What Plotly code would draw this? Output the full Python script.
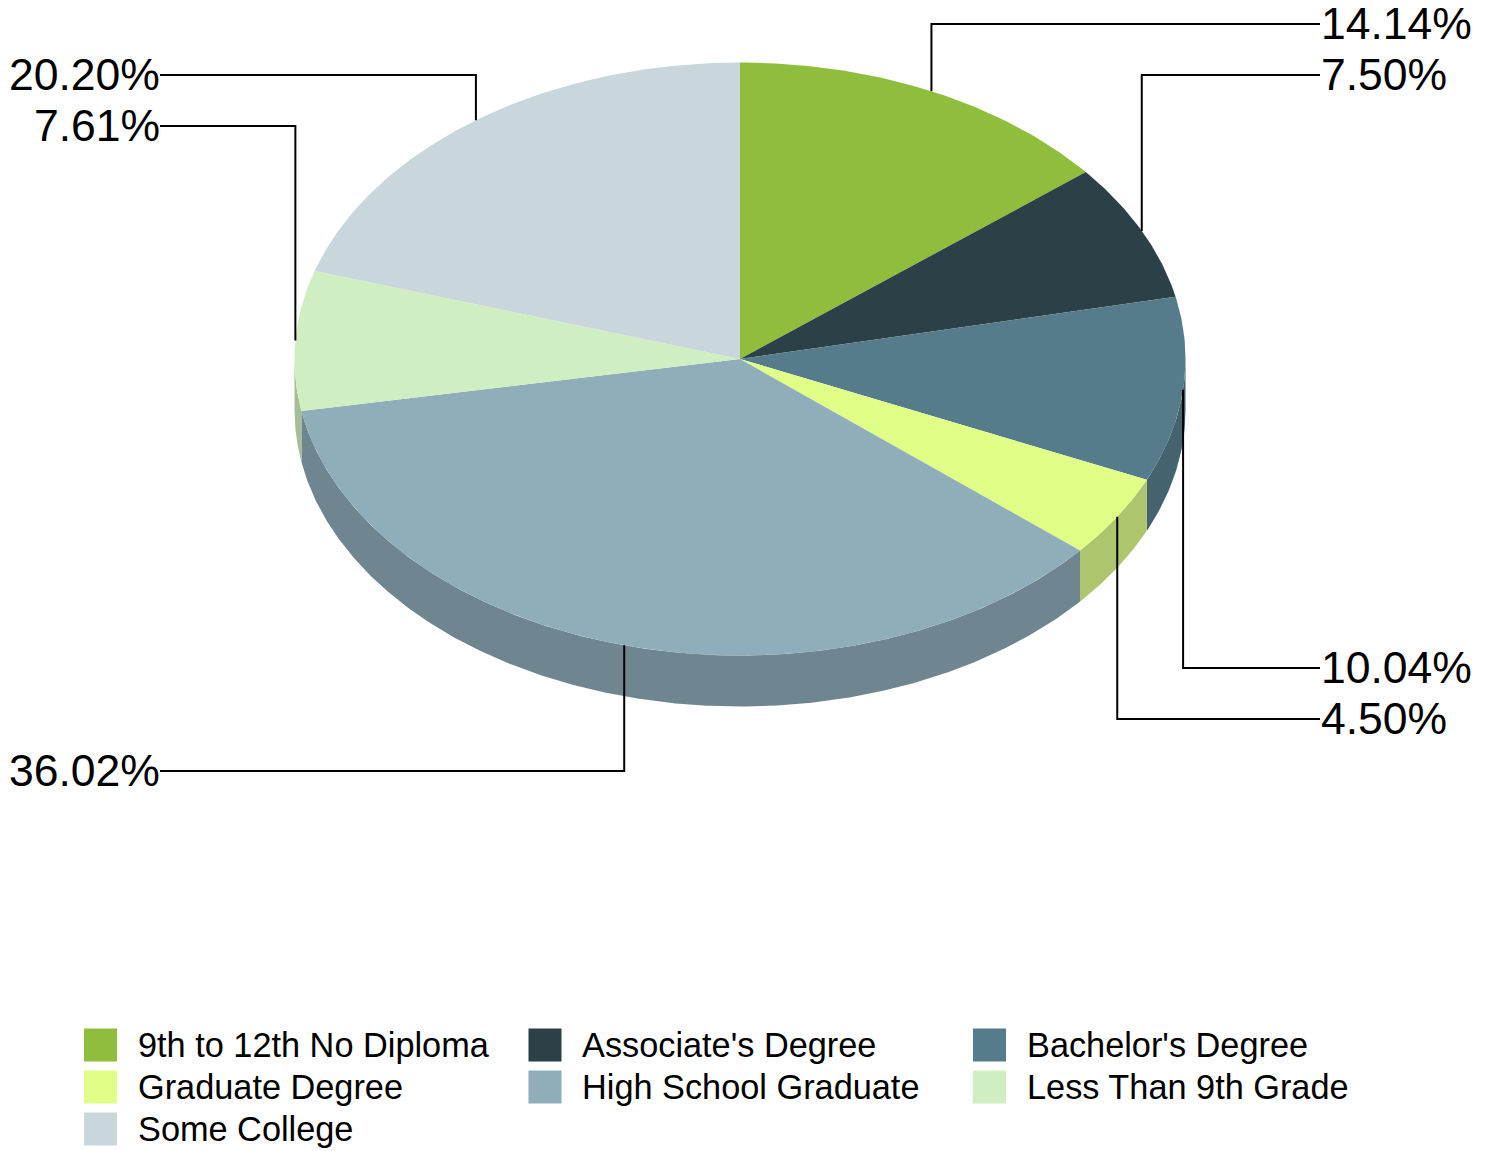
import math
import plotly.graph_objects as go

categories = ["9th to 12th No Diploma", "Associate's Degree", "Bachelor's Degree",
              "Graduate Degree", "High School Graduate", "Less Than 9th Grade", "Some College"]
values = [14.14, 7.50, 10.04, 4.50, 36.02, 7.61, 20.20]
top_colors = ["#8fbe3c", "#2c4048", "#567b8b", "#dfff87", "#90aeb9", "#cfeec1", "#c9d7dc"]
side_colors = ["#73982f", "#233339", "#45626f", "#adc56d", "#6f8691", "#a5be9a", "#a1acb0"]
label_pos = [(24, "r"), (75, "r"), (668, "r"), (719, "r"), (771, "l"), (126, "l"), (75, "l")]

W, H = 1492, 1151
CX, CY, RX, RY, DEPTH = 740.0, 359.0, 445.5, 296.5, 51.0
XR, XL = 1320, 160
LEG_SWATCH_X = [100.5, 545.0, 989.5]
LEG_TEXT_X = [137, 581, 1026]
LEG_Y = [1045, 1087, 1129]
total = sum(values)


def pt(deg, dy=0.0):
    a = math.radians(deg)
    return CX + RX * math.sin(a), CY - RY * math.cos(a) + dy


def arc(a0, a1):
    n = max(2, int(abs(a1 - a0) * 2) + 1)
    return [a0 + (a1 - a0) * i / (n - 1) for i in range(n)]


fig = go.Figure()
FONT = "Liberation Sans, Arial, sans-serif"
starts, acc = [], 0.0
for v in values:
    starts.append(acc / total * 360)
    acc += v
ends = starts[1:] + [360.0]

# side walls (only the front half of the disc shows)
for s, e, col in zip(starts, ends, side_colors):
    lo, hi = max(s, 90.0), min(e, 270.0)
    if lo >= hi:
        continue
    angs = arc(lo, hi)
    upper = [pt(a) for a in angs]
    lower = [pt(a, DEPTH) for a in reversed(angs)]
    pts = upper + lower + upper[:1]
    fig.add_trace(go.Scatter(x=[p[0] for p in pts], y=[p[1] for p in pts], mode="lines",
                             fill="toself", fillcolor=col, line=dict(width=0),
                             hoverinfo="skip", showlegend=False))

# top faces
for s, e, col, name in zip(starts, ends, top_colors, categories):
    pts = [(CX, CY)] + [pt(a) for a in arc(s, e)] + [(CX, CY)]
    fig.add_trace(go.Scatter(x=[p[0] for p in pts], y=[p[1] for p in pts], mode="lines",
                             fill="toself", fillcolor=col, line=dict(width=0),
                             name=name, showlegend=False))

# leader lines and labels
for s, e, v, (ly, side) in zip(starts, ends, values, label_pos):
    px, py = pt((s + e) / 2)
    xe = XR if side == "r" else XL
    fig.add_trace(go.Scatter(x=[px, px, xe], y=[py, ly, ly], mode="lines",
                             line=dict(color="#000000", width=2),
                             hoverinfo="skip", showlegend=False))
    fig.add_annotation(x=xe, y=ly, xref="x", yref="y", text=f"{v:.2f}%", showarrow=False,
                       xanchor="left" if side == "r" else "right", yanchor="middle",
                       xshift=-1.5 if side == "r" else 1.5, yshift=1,
                       font=dict(size=44.5, color="#000000", family=FONT))

# legend: swatch grid and names
for i, (name, col) in enumerate(zip(categories, top_colors)):
    r, c = divmod(i, 3)
    fig.add_trace(go.Scatter(x=[LEG_SWATCH_X[c]], y=[LEG_Y[r]], mode="markers", name=name,
                             marker=dict(symbol="square", size=33, color=col, line=dict(width=0)),
                             showlegend=False))
    fig.add_annotation(x=LEG_TEXT_X[c], y=LEG_Y[r], xref="x", yref="y", text=name, showarrow=False,
                       xanchor="left", yanchor="middle", borderpad=0,
                       font=dict(size=34.3, color="#000000", family=FONT))

fig.update_layout(
    width=W, height=H, autosize=False,
    margin=dict(l=0, r=0, t=0, b=0),
    paper_bgcolor="#ffffff", plot_bgcolor="#ffffff",
    showlegend=False,
    xaxis=dict(range=[0, W], visible=False, fixedrange=True),
    yaxis=dict(range=[H, 0], visible=False, fixedrange=True),
)
fig.write_html("out.html", config={"displayModeBar": False},
               post_script="document.body.style.margin='0';document.body.style.overflow='hidden';")
